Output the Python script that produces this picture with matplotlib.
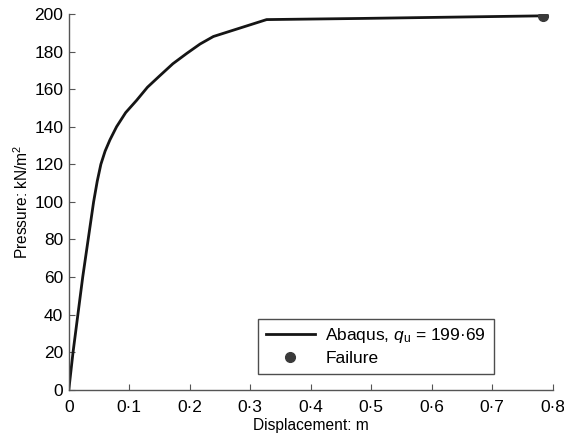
import matplotlib

matplotlib.use("Agg")

import matplotlib.pyplot as plt
from matplotlib.ticker import FuncFormatter

# Load-displacement curve
displacement = [0.0, 0.007, 0.015, 0.023, 0.032, 0.041, 0.047, 0.053, 0.060,
                0.068, 0.079, 0.094, 0.112, 0.130, 0.150, 0.172, 0.195,
                0.217, 0.239, 0.283, 0.327, 0.481, 0.784]
pressure = [0.0, 20.0, 40.0, 60.0, 80.0, 100.0, 111.0, 120.0, 127.0,
            133.0, 140.0, 147.5, 154.0, 161.0, 167.0, 173.5, 179.0,
            184.0, 188.0, 192.5, 197.0, 197.6, 199.0]
failure_x = [0.784]
failure_y = [199.0]

x_ticks = [0, 0.1, 0.2, 0.3, 0.4, 0.5, 0.6, 0.7, 0.8]
y_ticks = list(range(0, 201, 20))

plt.rcParams["font.family"] = ["Liberation Sans", "DejaVu Sans"]
plt.rcParams["mathtext.fontset"] = "custom"
plt.rcParams["mathtext.it"] = "Liberation Sans:italic"
plt.rcParams["mathtext.rm"] = "Liberation Sans"

fig = plt.figure(figsize=(5.64, 4.36), dpi=100)
ax = fig.add_axes([0.122, 0.106, 0.858, 0.862])

ax.plot(displacement, pressure, color="#151515", linewidth=2.0,
        solid_joinstyle="round", label=r"Abaqus, $q_\mathrm{u}$ = 199·69")
ax.plot(failure_x, failure_y, linestyle="none", marker="o", markersize=7,
        color="#3a3a3a", label="Failure")

ax.set_xlim(0, 0.8)
ax.set_ylim(0, 200)
ax.set_xticks(x_ticks)
ax.set_yticks(y_ticks)
ax.xaxis.set_major_formatter(FuncFormatter(
    lambda v, pos: "0" if v == 0 else f"{v:.1f}".replace(".", "·")))

for side in ("top", "right"):
    ax.spines[side].set_visible(False)
for side in ("left", "bottom"):
    ax.spines[side].set_color("#555555")
    ax.spines[side].set_linewidth(1.0)

ax.tick_params(direction="in", length=4, width=0.8, color="#555555",
               labelsize=12.5)
ax.tick_params(axis="x", pad=7.5)
ax.tick_params(axis="y", pad=4)

ax.set_xlabel("Displacement: m", fontsize=11.2, labelpad=2)
ax.set_ylabel(r"Pressure: kN/m$^2$", fontsize=11.2, labelpad=2)

leg = ax.legend(loc="lower right", bbox_to_anchor=(0.878, 0.043), fontsize=12.5,
                frameon=True, fancybox=False, edgecolor="#222222",
                handlelength=2.8, handletextpad=0.6, borderpad=0.45,
                labelspacing=0.3, borderaxespad=0)
leg.get_frame().set_linewidth(1.0)

fig.savefig("out.png", dpi=100)
plt.close(fig)
